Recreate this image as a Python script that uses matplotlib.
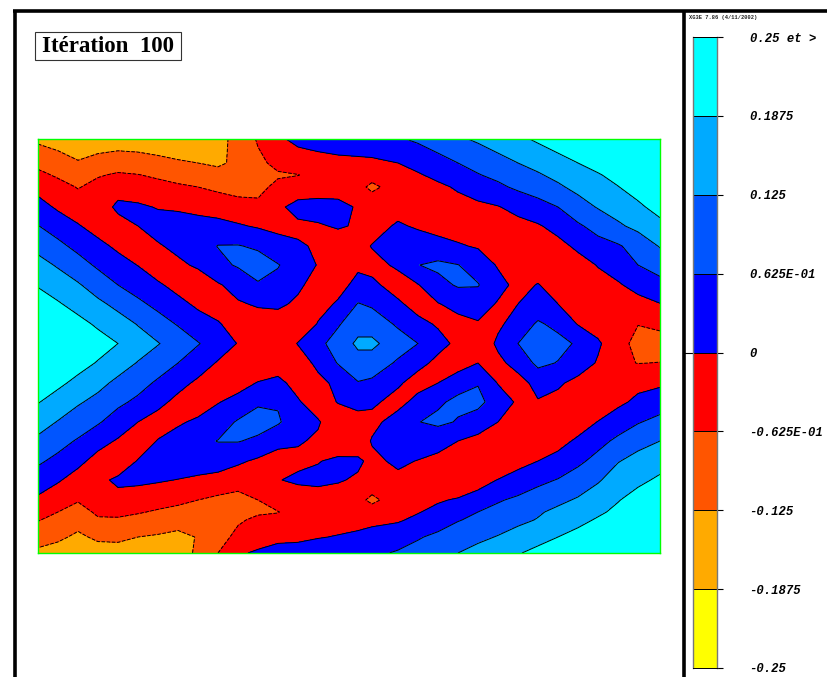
import numpy as np
import matplotlib
matplotlib.use("Agg")
import matplotlib.pyplot as plt
from matplotlib.colors import ListedColormap, BoundaryNorm
from matplotlib.patches import Rectangle

W, H = 828, 677

# grid node positions, read in picture pixels
x_nodes = [38, 58, 78, 98, 118, 138, 158, 178, 198, 218, 238, 258, 278, 298, 318, 338,
           358, 372, 398, 418, 438, 458, 478, 498, 518, 538, 558, 578, 598, 618, 638, 660]
y_nodes = [139, 163, 175, 187, 207, 226, 246, 265, 285, 304, 324, 343.5,
           363, 383, 402, 422, 441, 461, 480, 500, 512, 520, 537, 553]

field = [
    [-2.2, -2.4, -2.8, -2.7, -2.6, -2.6, -2.7, -2.8, -2.7, -2.3, -1.7, -0.9, -0.2, 0.3, 0.5, 0.7, 0.8, 0.85, 0.9, 1.15, 1.5, 1.85, 2.15, 2.5, 2.8, 3.15, 3.5, 3.9, 4.2, 4.5, 4.8, 5.0],
    [-1.25, -1.58, -1.9, -1.55, -1.38, -1.5, -1.68, -1.87, -2.0, -2.15, -1.8, -1.2, -0.77, -0.6, -0.45, -0.35, -0.3, -0.25, 0.0, 0.33, 0.65, 1.0, 1.3, 1.65, 2.0, 2.3, 2.65, 3.0, 3.35, 3.7, 4.0, 4.3],
    [-0.78, -1.12, -1.48, -1.07, -0.9, -0.97, -1.15, -1.36, -1.52, -1.68, -1.8, -1.35, -1.1, -1.02, -0.75, -0.7, -0.7, -0.75, -0.5, -0.1, 0.25, 0.55, 0.95, 1.22, 1.55, 1.9, 2.25, 2.6, 2.92, 3.3, 3.7, 4.05],
    [-0.33, -0.7, -1.05, -0.75, -0.5, -0.58, -0.7, -0.86, -1.0, -1.2, -1.37, -1.25, -0.78, -0.62, -0.6, -0.7, -0.8, -1.15, -0.7, -0.4, -0.2, 0.12, 0.46, 0.82, 1.17, 1.4, 1.85, 2.27, 2.6, 2.97, 3.4, 3.8],
    [0.38, -0.15, -0.55, -0.65, 0.25, 0.15, -0.06, -0.17, -0.31, -0.44, -0.62, -0.8, -0.2, 0.35, 0.45, 0.45, -0.15, -0.55, -0.45, -0.5, -0.45, -0.35, -0.2, -0.05, 0.3, 0.68, 1.0, 1.58, 2.07, 2.42, 2.82, 3.35],
    [1.03, 0.55, 0.08, -0.4, -0.45, 0.0, 0.4, 0.55, 0.4, 0.3, 0.1, -0.1, -0.2, -0.2, -0.1, 0.1, -0.1, -0.45, 0.15, -0.15, -0.3, -0.45, -0.5, -0.5, -0.3, -0.1, 0.34, 0.87, 1.32, 1.85, 2.26, 2.73],
    [1.72, 1.24, 0.73, 0.27, -0.2, -0.6, -0.1, 0.25, 0.6, 1.03, 1.05, 0.85, 0.3, 0.1, -0.1, -0.55, -0.35, 0.05, 0.45, 0.65, 0.3, 0.1, -0.1, -0.3, -0.45, -0.5, -0.3, 0.2, 0.68, 0.9, 1.38, 2.07],
    [2.33, 1.9, 1.39, 0.84, 0.39, -0.03, -0.6, -0.2, 0.15, 0.75, 1.1, 1.45, 1.05, 0.5, -0.05, -0.55, -0.15, -0.3, 0.15, 0.98, 1.2, 1.02, 0.6, -0.1, -0.25, -0.55, -0.6, -0.4, 0.05, 0.42, 1.0, 1.4],
    [2.94, 2.5, 2.1, 1.55, 1.0, 0.58, 0.15, -0.35, -0.6, -0.1, 0.35, 0.9, 0.75, 0.2, -0.45, -0.3, 0.25, 0.2, -0.4, -0.05, 0.7, 1.1, 1.05, 0.35, -0.3, 0.05, -0.45, -0.6, -0.35, -0.1, 0.3, 0.7],
    [3.4, 3.1, 2.65, 2.2, 1.75, 1.2, 0.75, 0.3, -0.2, -0.55, -0.1, 0.1, 0.2, -0.2, -0.3, 0.1, 1.05, 0.85, 0.15, -0.35, -0.05, 0.3, 0.5, -0.1, 0.0, 0.3, 0.0, -0.35, -0.5, -0.5, -0.3, -0.03],
    [3.95, 3.5, 3.3, 2.85, 2.4, 1.95, 1.4, 0.93, 0.47, 0.1, -0.5, -0.45, -0.55, -0.7, 0.05, 0.9, 1.6, 1.6, 0.85, 0.25, -0.1, -0.3, -0.1, -0.15, 0.35, 1.15, 0.7, -0.05, -0.45, -0.9, -0.98, -0.78],
    [4.5, 4.1, 3.75, 3.4, 3.0, 2.45, 2.05, 1.55, 1.05, 0.6, -0.05, -0.75, -0.7, 0.05, 0.75, 1.4, 2.2, 2.2, 1.5, 1.0, 0.3, -0.2, -0.6, 0.15, 1.0, 1.5, 1.35, 0.85, 0.15, -0.7, -1.25, -1.4],
    [4.3, 3.8, 3.35, 2.93, 2.4, 1.95, 1.5, 1.0, 0.55, -0.1, -0.75, -0.7, -0.5, -0.55, 0.25, 1.05, 1.6, 1.6, 0.85, 0.3, -0.25, -0.6, 0.0, -0.2, 0.3, 1.25, 0.95, 0.55, -0.1, -0.85, -1.02, -0.98],
    [3.65, 3.2, 2.75, 2.25, 1.8, 1.35, 0.85, 0.35, -0.2, -0.65, -0.35, 0.05, 0.25, -0.35, -0.3, 0.25, 0.95, 0.8, 0.15, -0.45, 0.0, 0.75, 0.95, -0.05, -0.3, 0.25, 0.15, -0.3, -0.55, -0.75, -0.25, -0.15],
    [3.05, 2.6, 2.1, 1.75, 1.2, 0.8, 0.3, -0.3, -0.6, -0.05, 0.3, 0.85, 0.92, 0.1, -0.55, 0.05, 0.4, 0.2, -0.4, 0.4, 0.9, 1.15, 1.25, 0.55, -0.15, -0.05, -0.3, -0.55, -0.65, -0.2, 0.2, 0.5],
    [2.42, 1.95, 1.55, 1.1, 0.55, 0.0, -0.45, -0.15, 0.2, 0.55, 1.1, 1.45, 1.1, 0.5, 0.1, -0.65, -0.5, -0.35, 0.55, 0.98, 1.15, 0.95, 0.55, 0.0, -0.55, -0.75, -0.8, -0.45, 0.03, 0.5, 0.93, 1.3],
    [1.8, 1.35, 0.9, 0.35, -0.1, -0.5, 0.05, 0.45, 0.75, 1.03, 1.05, 0.8, 0.35, 0.1, -0.15, -0.7, -0.75, 0.1, 0.8, 0.85, 0.5, 0.0, -0.3, -0.6, -0.85, -0.85, -0.3, 0.15, 0.7, 1.2, 1.7, 2.0],
    [1.15, 0.75, 0.25, -0.35, -0.55, 0.05, 0.6, 0.65, 0.6, 0.5, 0.15, -0.15, -0.5, -0.25, -0.05, 0.2, 0.2, -0.3, 0.25, -0.05, -0.35, -0.6, -0.75, -0.8, -0.25, 0.0, 0.3, 0.8, 1.3, 1.95, 2.3, 2.65],
    [0.55, 0.1, -0.4, -0.2, 0.15, 0.2, 0.1, -0.03, -0.2, -0.35, -0.55, -0.75, -0.05, 0.2, 0.25, 0.1, -0.15, -0.45, -0.3, -0.5, -0.75, -0.85, -0.35, 0.03, 0.3, 0.75, 1.05, 1.45, 1.9, 2.45, 2.8, 3.15],
    [-0.18, -0.6, -0.93, -0.3, -0.25, -0.5, -0.65, -0.8, -1.0, -1.2, -1.35, -1.0, -0.7, -0.65, -0.5, -0.55, -0.75, -1.2, -0.55, -0.35, -0.1, 0.1, 0.35, 0.9, 1.2, 1.5, 1.8, 2.1, 2.5, 2.95, 3.35, 3.6],
    [-0.63, -1.0, -1.35, -0.85, -0.85, -0.93, -1.1, -1.25, -1.45, -1.5, -1.3, -1.1, -1.02, -0.75, -0.6, -0.5, -0.55, -0.6, -0.35, -0.05, 0.25, 0.6, 1.0, 1.3, 1.55, 1.9, 2.2, 2.55, 2.85, 3.2, 3.6, 3.95],
    [-0.95, -1.3, -1.6, -1.1, -1.08, -1.25, -1.45, -1.6, -1.75, -1.6, -1.1, -0.85, -0.85, -0.6, -0.4, -0.35, -0.25, -0.2, -0.1, 0.2, 0.45, 0.95, 1.2, 1.53, 1.8, 2.05, 2.4, 2.75, 3.1, 3.55, 3.9, 4.2],
    [-1.6, -1.8, -2.2, -1.8, -1.8, -2.0, -2.1, -2.25, -1.95, -1.3, -0.8, -0.5, -0.2, -0.2, -0.05, 0.05, 0.15, 0.3, 0.55, 0.9, 1.25, 1.5, 1.8, 2.05, 2.35, 2.75, 3.0, 3.3, 3.7, 4.1, 4.4, 4.7],
    [-2.2, -2.45, -2.6, -2.5, -2.4, -2.5, -2.55, -2.4, -1.85, -1.0, -0.15, 0.15, 0.3, 0.4, 0.5, 0.55, 0.7, 0.8, 1.1, 1.4, 1.65, 2.0, 2.3, 2.6, 2.95, 3.2, 3.55, 3.9, 4.2, 4.6, 4.9, 5.2],
]

levels = [-0.25, -0.1875, -0.125, -0.0625, 0, 0.0625, 0.125, 0.1875, 0.25]
band_colors = ["#FFFF00", "#FFAA00", "#FF5500", "#FF0000",
               "#0000FF", "#0055FF", "#00AAFF", "#00FFFF"]
tick_labels = ["-0.25", "-0.1875", "-0.125", "-0.625E-01", "0",
               "0.625E-01", "0.125", "0.1875", "0.25 et >"]


def px_axes(fig, left, top, right, bottom):
    return fig.add_axes([left / W, 1 - bottom / H, (right - left) / W, (bottom - top) / H])


fig = plt.figure(figsize=(W / 100, H / 100), dpi=100, facecolor="white")

# frame and title, drawn in picture pixels
bg = fig.add_axes([0, 0, 1, 1])
bg.set_xlim(0, W)
bg.set_ylim(H, 0)
bg.axis("off")
bg.plot([15, 15], [H + 5, 11], color="black", lw=2.6, solid_capstyle="butt")
bg.plot([13.5, W + 5], [11, 11], color="black", lw=2.6, solid_capstyle="butt")
bg.plot([684, 684], [H + 5, 11], color="black", lw=2.6, solid_capstyle="butt")
bg.add_patch(Rectangle((35, 32), 146, 28, fc="white", ec="#333333", lw=0.8))
bg.text(108, 46.5, "Itération  100", family="Liberation Serif", weight="bold", fontsize=16.5,
        ha="center", va="center")
bg.text(689, 17.5, "XG3E 7.86 (4/11/2002)", family="Liberation Mono", weight="bold", fontsize=3.9,
        color="#222222", ha="left", va="center")

# contour field
ax = px_axes(fig, 38, 139, 660, 553)
values = np.array(field) / 16
cmap = ListedColormap(band_colors)
norm = BoundaryNorm(levels, cmap.N)
cs = ax.contourf(x_nodes, y_nodes, values, levels=levels, cmap=cmap, norm=norm, extend="max")
cs.cmap.set_over("#00FFFF")
ax.contour(x_nodes, y_nodes, values, levels=levels[1:-1], colors="black", linewidths=0.7)
ax.set_xlim(38, 660)
ax.set_ylim(553, 139)
ax.set_xticks([])
ax.set_yticks([])
for s in ax.spines.values():
    s.set_color("#00FF00")
    s.set_linewidth(1.0)

# colour scale
cb = px_axes(fig, 693, 37, 717, 668)
cb.bar([0.5] * 8, np.diff(levels), width=1, bottom=levels[:-1], color=band_colors)
cb.hlines(levels, 0, 1, color="black", lw=0.7)
cb.plot([-0.38, 0], [0, 0], color="black", lw=0.8, clip_on=False)
cb.set_xlim(0, 1)
cb.set_ylim(-0.25, 0.25)
cb.set_xticks([])
cb.yaxis.tick_right()
cb.set_yticks(levels)
cb.set_yticklabels(tick_labels, family="Liberation Mono", weight="bold", style="italic", fontsize=8.8)
cb.tick_params(axis="y", length=4.4, width=0.8, pad=19)
for s in ("left", "right"):
    cb.spines[s].set_color("#777777")
    cb.spines[s].set_linewidth(1.0)
for s in ("top", "bottom"):
    cb.spines[s].set_color("black")
    cb.spines[s].set_linewidth(0.7)

fig.savefig("out.png", dpi=100)
